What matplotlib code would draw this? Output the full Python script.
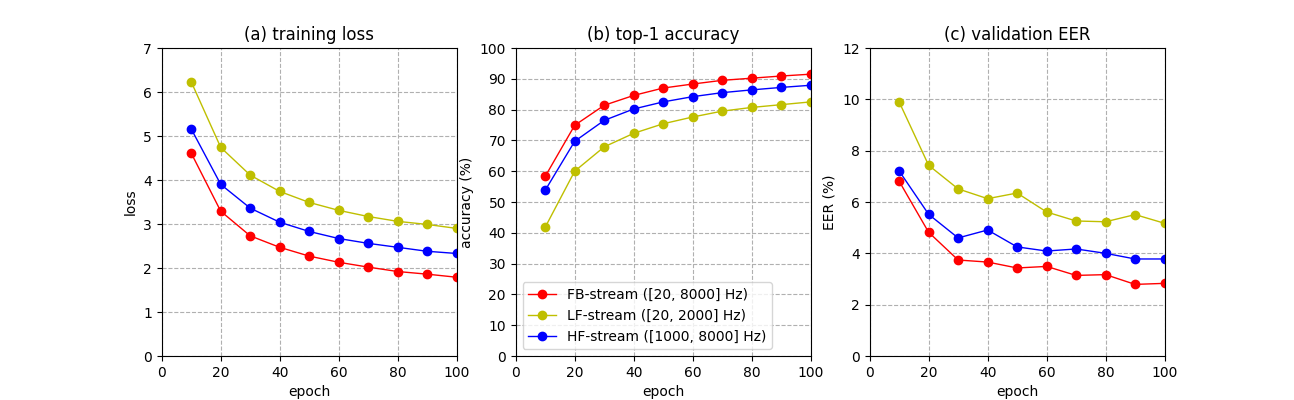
import numpy as np
import matplotlib.pyplot as plt

# epochs and results
epoch = [10, 20, 30, 40, 50, 60, 70, 80, 90, 100]
names = ['FB-stream ([20, 8000] Hz)', 'LF-stream ([20, 2000] Hz)', 'HF-stream ([1000, 8000] Hz)']

loss_fb = [4.61, 3.29, 2.73, 2.47, 2.27, 2.13, 2.02, 1.92, 1.86, 1.79]
loss_lf = [6.23, 4.74, 4.11, 3.74, 3.49, 3.31, 3.17, 3.06, 2.99, 2.90]
loss_hf = [5.16, 3.90, 3.36, 3.04, 2.83, 2.67, 2.56, 2.47, 2.38, 2.33]

acc_fb = [58.3, 74.9, 81.4, 84.6, 87.0, 88.3, 89.5, 90.2, 90.9, 91.5]
acc_lf = [41.8, 60.0, 67.9, 72.3, 75.4, 77.6, 79.5, 80.7, 81.6, 82.5]
acc_hf = [53.8, 69.7, 76.5, 80.2, 82.5, 84.2, 85.5, 86.4, 87.2, 87.9]

eer_fb = [6.81, 4.82, 3.74, 3.66, 3.43, 3.49, 3.14, 3.17, 2.79, 2.83]
eer_lf = [9.90, 7.43, 6.51, 6.13, 6.35, 5.61, 5.26, 5.23, 5.51, 5.17]
eer_hf = [7.21, 5.52, 4.60, 4.91, 4.25, 4.09, 4.17, 4.00, 3.78, 3.78]

fig = plt.figure(figsize=(12.94, 4), dpi=100)

# (a) loss
plt.subplot(1, 3, 1)
plt.plot(epoch, loss_fb, 'ro-', lw=1, label=names[0])
plt.plot(epoch, loss_lf, 'yo-', lw=1, label=names[1])
plt.plot(epoch, loss_hf, 'bo-', lw=1, label=names[2])
plt.xlim(0, 100)
plt.ylim(0, 7)
plt.xlabel('epoch')
plt.ylabel('loss')
plt.title('(a) training loss')
plt.grid(linestyle='--')

# (b) accuracy
plt.subplot(1, 3, 2)
plt.plot(epoch, acc_fb, 'ro-', lw=1, label=names[0])
plt.plot(epoch, acc_lf, 'yo-', lw=1, label=names[1])
plt.plot(epoch, acc_hf, 'bo-', lw=1, label=names[2])
plt.xlim(0, 100)
plt.ylim(0, 100)
plt.yticks(np.arange(0, 101, 10))
plt.xlabel('epoch')
plt.ylabel('accuracy (%)')
plt.title('(b) top-1 accuracy')
plt.grid(linestyle='--')
plt.legend(loc='lower left')

# (c) EER
plt.subplot(1, 3, 3)
plt.plot(epoch, eer_fb, 'ro-', lw=1, label=names[0])
plt.plot(epoch, eer_lf, 'yo-', lw=1, label=names[1])
plt.plot(epoch, eer_hf, 'bo-', lw=1, label=names[2])
plt.xlim(0, 100)
plt.ylim(0, 12)
plt.xlabel('epoch')
plt.ylabel('EER (%)')
plt.title('(c) validation EER')
plt.grid(linestyle='--')

plt.savefig('out.png', dpi=100)
